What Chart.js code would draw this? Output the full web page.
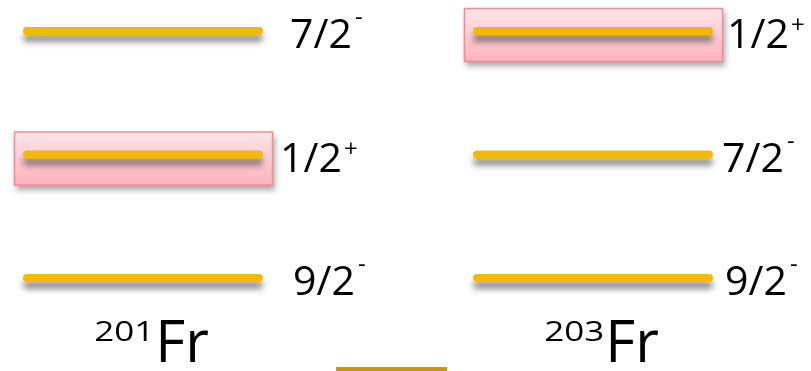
<!DOCTYPE html>
<html>
<head>
<meta charset="utf-8">
<script src="https://cdn.jsdelivr.net/npm/chart.js@4/dist/chart.umd.min.js"></script>
<style>
html,body{margin:0;padding:0;background:#fff;overflow:hidden}
#levels{display:block}
</style>
</head>
<body>
<canvas id="levels" width="811" height="371"></canvas>
<script>
// one column per isotope
const isotopes = ['201', '203']
const element = 'Fr'
// levels from the ground state up (0 = ground)
const spins201 = ['9/2-', '1/2+', '7/2-']
const levels201 = [0, 1, 2]
const spins203 = ['9/2-', '7/2-', '1/2+']
const levels203 = [0, 1, 2]
// the isomer that sits in the pink box
const boxed = ['1/2+', '1/2+']

const spinLists = [spins201, spins203]
const levelLists = [levels201, levels203]

const HALF = 0.2578        // half length of a level line, in column units
const BAR = '#f4b800'

// one line dataset per level
let datasets = []
isotopes.forEach((iso, i) => {
    levelLists[i].forEach((lv, k) => {
        datasets.push({
            label: iso + element + ' ' + spinLists[i][k],
            data: [{x: i - HALF, y: lv}, {x: i + HALF, y: lv}],
            borderColor: BAR,
            borderWidth: 8,
            borderCapStyle: 'round',
            pointRadius: 0,
            tension: 0
        })
    })
})

let drawSpin = (ctx, s, xPix, yPix) => {
    let main = s.slice(0, -1)
    let par = s.slice(-1)
    let base = yPix + 17
    ctx.fillStyle = '#000'
    ctx.textAlign = 'left'
    ctx.textBaseline = 'alphabetic'
    ctx.font = '41px "Open Sans"'
    ctx.fillText(main, xPix, base)
    let w = ctx.measureText(main).width
    ctx.font = '24px "Open Sans"'
    if (par === '+') {
        ctx.fillText('+', xPix + w + 2, base - 15)
    } else {
        ctx.fillText('-', xPix + w + 3, base - 23)
    }
}

const levelPlugin = {
    id: 'levelPlugin',
    beforeDatasetsDraw(chart) {
        const {ctx, scales: {x, y}} = chart
        // pink boxes round the isomers
        isotopes.forEach((iso, i) => {
            let k = spinLists[i].indexOf(boxed[i])
            if (k < 0) return
            let yc = y.getPixelForValue(levelLists[i][k])
            let x0 = x.getPixelForValue(i - HALF) - 13
            let x1 = x.getPixelForValue(i + HALF) + 14
            let y0 = yc - 23, y1 = yc + 31
            ctx.save()
            let g = ctx.createLinearGradient(0, y0, 0, y1)
            g.addColorStop(0, '#fde6ea')
            g.addColorStop(1, '#fdb2bd')
            ctx.shadowColor = 'rgba(0,0,0,0.35)'
            ctx.shadowBlur = 6
            ctx.shadowOffsetX = 2
            ctx.shadowOffsetY = 4
            ctx.fillStyle = g
            ctx.fillRect(x0, y0, x1 - x0, y1 - y0)
            ctx.shadowColor = 'transparent'
            ctx.strokeStyle = '#ef8c98'
            ctx.lineWidth = 1.5
            ctx.strokeRect(x0 + 0.5, y0 + 0.5, x1 - x0 - 1, y1 - y0 - 1)
            ctx.restore()
        })
        // soft shadow under every level line
        ctx.save()
        ctx.shadowColor = 'rgba(50,50,50,0.55)'
        ctx.shadowBlur = 6
        ctx.shadowOffsetY = 7
    },
    afterDatasetsDraw(chart) {
        const {ctx, scales: {x, y}} = chart
        ctx.restore()
        ctx.save()
        // spin labels, gap from the line's end (cap included)
        const gaps = [[34, 21, 31], [16, 13, 18]]
        isotopes.forEach((iso, i) => {
            levelLists[i].forEach((lv, k) => {
                drawSpin(ctx, spinLists[i][k], x.getPixelForValue(i + HALF) + gaps[i][k], y.getPixelForValue(lv))
            })
        })
        // isotope names under the columns
        isotopes.forEach((iso, i) => {
            let cx = x.getPixelForValue(i) + 8
            let base = y.getPixelForValue(0) + 84
            ctx.font = '58px "Open Sans"'
            let wF = ctx.measureText(element).width
            ctx.font = '28px "Open Sans"'
            let wS = ctx.measureText(iso).width * 1.25
            let x0 = cx - (wF + wS) / 2
            ctx.save()
            ctx.translate(x0, base - 21)
            ctx.scale(1.25, 1)
            ctx.fillText(iso, 0, 0)
            ctx.restore()
            ctx.font = '58px "Open Sans"'
            ctx.fillText(element, x0 + wS + 1, base)
        })
        // short gold rule at the bottom edge
        let rx0 = x.getPixelForValue(0.429), rx1 = x.getPixelForValue(0.676)
        let ry = y.getPixelForValue(-0.737)
        ctx.fillStyle = '#c8960a'
        ctx.fillRect(rx0, ry - 2, rx1 - rx0, 6)
        ctx.restore()
    }
}

new Chart(document.getElementById('levels'), {
    type: 'line',
    data: {datasets},
    options: {
        responsive: false,
        animation: false,
        events: [],
        layout: {padding: 0},
        plugins: {legend: {display: false}, tooltip: {enabled: false}},
        scales: {
            x: {type: 'linear', display: false, min: -0.3178, max: 1.4844},
            y: {type: 'linear', display: false, min: -0.753, max: 2.251}
        }
    },
    plugins: [levelPlugin]
})
</script>
</body>
</html>
